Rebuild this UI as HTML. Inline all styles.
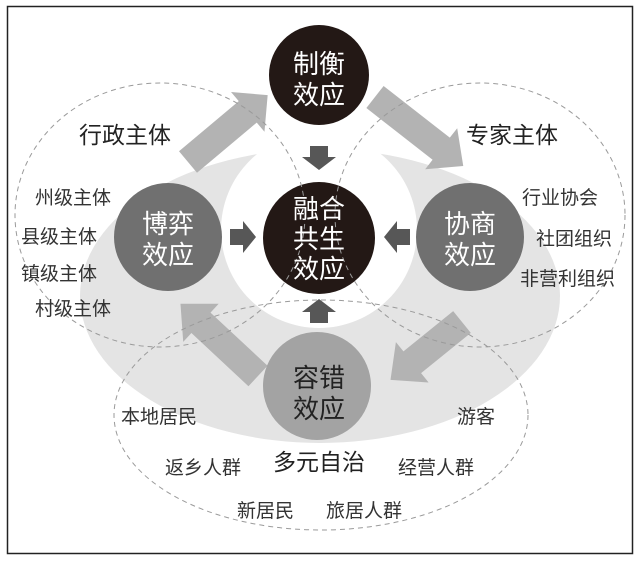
<!DOCTYPE html>
<html><head><meta charset="utf-8"><style>
html,body{margin:0;padding:0;background:#fff;}
svg{display:block;}
text{font-family:"Liberation Sans","Noto Sans CJK SC",sans-serif;}
</style></head><body>
<svg width="640" height="562" viewBox="0 0 640 562" xmlns="http://www.w3.org/2000/svg">
<rect x="7.5" y="6.5" width="625" height="547" fill="#fff" stroke="#222" stroke-width="1.5"/>
<ellipse cx="320" cy="296" rx="240" ry="147" fill="#e4e4e4"/>
<circle cx="319" cy="230" r="98" fill="#fff"/>
<g fill="#b3b3b3">
<g transform="translate(188,162) rotate(-40)"><polygon points="0,-14 78,-14 78,-26 104,0 78,26 78,14 0,14"/></g>
<g transform="translate(375,97) rotate(38)"><polygon points="0,-14 84,-14 84,-26 112,0 84,26 84,14 0,14"/></g>
<g transform="translate(462,322) rotate(141)"><polygon points="0,-14 64,-14 64,-26 92,0 64,26 64,14 0,14"/></g>
<g transform="translate(258,376) rotate(-137)"><polygon points="0,-14 78,-14 78,-26 106,0 78,26 78,14 0,14"/></g>
</g>
<g fill="#575757">
<polygon points="310,146 328,146 328,157 336,157 319,170 302,157 310,157"/>
<polygon points="310,323 328,323 328,312 336,312 319,299 302,312 310,312"/>
<polygon points="230,229 243,229 243,221 256,237 243,253 243,245 230,245"/>
<polygon points="410,229 397,229 397,221 384,237 397,253 397,245 410,245"/>
</g>
<circle cx="319" cy="75" r="50" fill="#231815"/>
<circle cx="319" cy="238" r="56" fill="#231815"/>
<circle cx="168" cy="237" r="54" fill="#707070"/>
<circle cx="470" cy="237" r="54" fill="#707070"/>
<circle cx="317" cy="386" r="54" fill="#a3a3a3"/>
<g fill="none" stroke="#9a9a9a" stroke-width="1" stroke-dasharray="5,4">
<ellipse cx="160" cy="215" rx="145" ry="132"/>
<ellipse cx="480" cy="215" rx="145" ry="132"/>
<ellipse cx="321" cy="415" rx="207" ry="115"/>
</g>
<g font-size="26" text-anchor="middle" fill="#fff">
<text x="319" y="73">制衡</text><text x="319" y="104">效应</text>
<text x="319" y="218">融合</text><text x="319" y="248">共生</text><text x="319" y="278">效应</text>
<text x="168" y="233">博弈</text><text x="168" y="264">效应</text>
<text x="470" y="233">协商</text><text x="470" y="264">效应</text>
</g>
<g font-size="26" text-anchor="middle" fill="#222">
<text x="319" y="387">容错</text><text x="319" y="418">效应</text>
</g>
<g font-size="23" fill="#222">
<text x="79" y="143">行政主体</text>
<text x="466" y="143">专家主体</text>
<text x="273" y="470">多元自治</text>
</g>
<g font-size="19" fill="#333">
<text x="35" y="204">州级主体</text>
<text x="21" y="243">县级主体</text>
<text x="21" y="280">镇级主体</text>
<text x="35" y="315">村级主体</text>
<text x="522" y="204">行业协会</text>
<text x="536" y="245">社团组织</text>
<text x="520" y="285">非营利组织</text>
<text x="121" y="423">本地居民</text>
<text x="457" y="423">游客</text>
<text x="165" y="474">返乡人群</text>
<text x="398" y="474">经营人群</text>
<text x="237" y="517">新居民</text>
<text x="326" y="517">旅居人群</text>
</g>
</svg>
</body></html>
